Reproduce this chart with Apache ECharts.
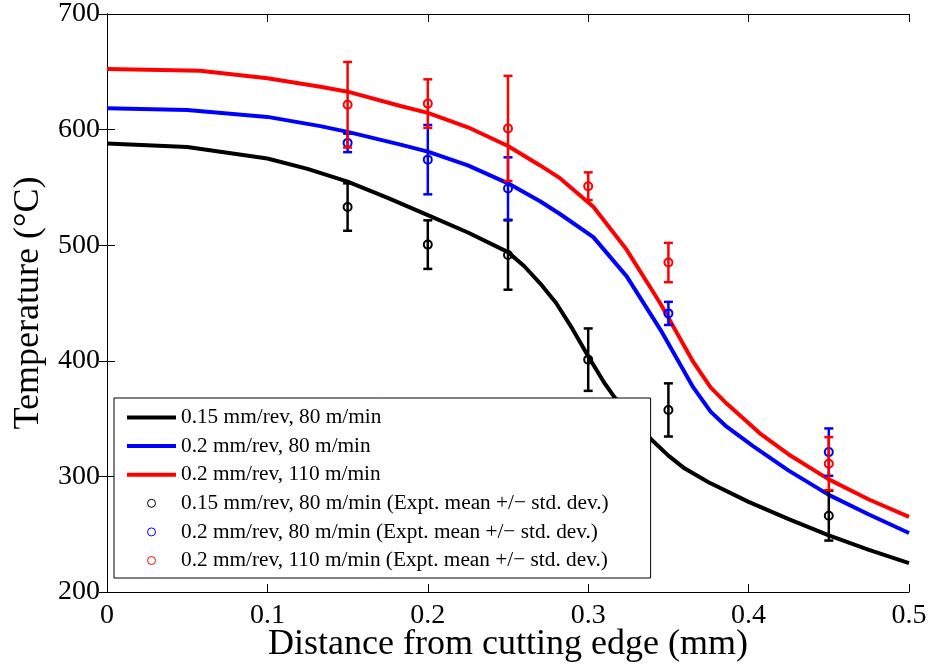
<!DOCTYPE html>
<html>
<head>
<meta charset="utf-8">
<script src="https://cdn.jsdelivr.net/npm/echarts@6/dist/echarts.min.js"></script>
<style>
  html, body { margin: 0; padding: 0; background: #fff; }
  #chart { width: 930px; height: 664px; }
</style>
</head>
<body>
<div id="chart"></div>
<script>
// Simulated temperature profiles along the rake face
const blackX = [0, 0.05, 0.1, 0.125, 0.15, 0.175, 0.2, 0.225, 0.25, 0.26, 0.27, 0.28, 0.29, 0.3, 0.31, 0.3167, 0.33, 0.34, 0.35, 0.36, 0.375, 0.4, 0.425, 0.45, 0.475, 0.5];
const blackT = [588, 585, 575, 566, 555, 541, 526, 511, 494, 482, 467, 450, 428, 404, 381, 368, 346, 331, 318, 307, 295, 278, 263, 249, 236.5, 225];

const blueX = [0, 0.05, 0.1, 0.133, 0.15, 0.183, 0.2, 0.225, 0.25, 0.27, 0.2824, 0.3032, 0.324, 0.345, 0.3655, 0.3763, 0.3863, 0.403, 0.425, 0.45, 0.475, 0.5];
const blueT = [618.4, 617, 611, 603, 598, 587, 581, 569, 553.5, 538, 527, 507, 473, 427, 377, 356, 343, 326, 305, 284, 267, 251];

const redX = [0, 0.058, 0.1, 0.133, 0.15, 0.183, 0.2, 0.225, 0.25, 0.27, 0.2824, 0.3032, 0.324, 0.3448, 0.3655, 0.3763, 0.3863, 0.407, 0.425, 0.45, 0.475, 0.5];
const redT = [652.4, 651, 644.4, 637, 632.8, 620.4, 614.5, 602, 585.8, 569, 558, 533.3, 496, 450, 399, 377, 363, 337.3, 319, 297.4, 280, 265];

// Measured temperatures: mean and standard deviation
const blackExpX = [0.15, 0.2, 0.25, 0.3, 0.35, 0.45];
const blackMean = [533, 500.5, 491.5, 401, 357.5, 266];
const blackStd  = [20.5, 21, 30, 27, 23, 21.5];

const blueExpX = [0.15, 0.2, 0.25, 0.35, 0.45];
const blueMean = [588.5, 574, 549, 441, 321];
const blueStd  = [8, 30, 27, 10, 20.5];

const redExpX = [0.15, 0.2, 0.25, 0.3, 0.35, 0.45];
const redMean = [621.5, 622.5, 601, 551, 485, 311];
const redStd  = [37, 21, 45.5, 12, 17, 23];

const lineNames = ['0.15 mm/rev, 80 m/min', '0.2 mm/rev, 80 m/min', '0.2 mm/rev, 110 m/min'];
const expNames = [
  '0.15 mm/rev, 80 m/min (Expt. mean +/\u2212 std. dev.)',
  '0.2 mm/rev, 80 m/min (Expt. mean +/\u2212 std. dev.)',
  '0.2 mm/rev, 110 m/min (Expt. mean +/\u2212 std. dev.)'
];
const xTicks = ['0', '0.1', '0.2', '0.3', '0.4', '0.5'];

const COLORS = ['#000000', '#0000ff', '#ff0000'];
const FONT = '"Liberation Serif", "Times New Roman", serif';

function zip(xs, ys) { return xs.map((x, i) => [x, ys[i]]); }
function zip3(xs, ms, ss) { return xs.map((x, i) => [x, ms[i], ss[i]]); }

function lineSeries(name, data, color) {
  return {
    name, type: 'line', data, showSymbol: false, symbol: 'none',
    smooth: false,
    lineStyle: { color, width: 4, join: 'round' }, itemStyle: { color },
    z: 2, silent: true
  };
}

function errorSeries(name, data, color) {
  return {
    name, type: 'custom', data,
    encode: { x: 0, y: 1 },
    itemStyle: { color },
    z: 3, silent: true,
    renderItem(params, api) {
      const x = api.value(0), m = api.value(1), s = api.value(2);
      const top = api.coord([x, m + s]);
      const bot = api.coord([x, m - s]);
      const c = api.coord([x, m]);
      const hw = 4.5;
      const st = { stroke: color, lineWidth: 2.5, fill: null };
      return {
        type: 'group',
        children: [
          { type: 'line', shape: { x1: top[0], y1: top[1], x2: bot[0], y2: bot[1] }, style: st },
          { type: 'line', shape: { x1: top[0] - hw, y1: top[1], x2: top[0] + hw, y2: top[1] }, style: st },
          { type: 'line', shape: { x1: bot[0] - hw, y1: bot[1], x2: bot[0] + hw, y2: bot[1] }, style: st },
          { type: 'circle', shape: { cx: c[0], cy: c[1], r: 4 }, style: { stroke: color, fill: null, lineWidth: 2 } }
        ]
      };
    }
  };
}

const chart = echarts.init(document.getElementById('chart'), null, { renderer: 'canvas' });

const axisCommon = {
  axisLine: { show: true, lineStyle: { color: '#000', width: 1 } },
  axisTick: { show: true, inside: true, length: 8, lineStyle: { color: '#000', width: 1 } },
  splitLine: { show: false }
};

const hiddenMarker = { color: 'rgba(0,0,0,0)', borderWidth: 0 };

chart.setOption({
  animation: false,
  backgroundColor: '#fff',
  textStyle: { fontFamily: FONT },
  grid: { left: 107, right: 21, top: 14, bottom: 72, containLabel: false, outerBoundsMode: 'none' },
  xAxis: [
    Object.assign({
      type: 'value', min: 0, max: 0.5, interval: 0.1, position: 'bottom',
      name: 'Distance from cutting edge (mm)', nameLocation: 'middle', nameGap: 35,
      nameMoveOverlap: false,
      nameTextStyle: { fontFamily: FONT, fontSize: 36, color: '#000' },
      axisLabel: {
        fontFamily: FONT, fontSize: 28, color: '#000', margin: 10,
        formatter: v => xTicks[Math.round(v * 10)]
      }
    }, axisCommon),
    Object.assign({
      type: 'value', min: 0, max: 0.5, interval: 0.1, position: 'top',
      axisLabel: { show: false }
    }, axisCommon)
  ],
  yAxis: [
    Object.assign({
      type: 'value', min: 200, max: 700, interval: 100, position: 'left',
      name: 'Temperature (\u00B0C)', nameLocation: 'middle', nameGap: 60,
      nameMoveOverlap: false,
      nameTextStyle: { fontFamily: FONT, fontSize: 36, color: '#000' },
      axisLabel: { fontFamily: FONT, fontSize: 28, color: '#000', margin: 7 }
    }, axisCommon),
    Object.assign({
      type: 'value', min: 200, max: 700, interval: 100, position: 'right',
      axisLabel: { show: false }
    }, axisCommon)
  ],
  legend: {
    orient: 'vertical', left: 114, top: 398,
    padding: [9, 42, 7, 11],
    itemWidth: 49, itemHeight: 8, itemGap: 7.6,
    backgroundColor: '#fff', borderColor: '#000', borderWidth: 1, borderRadius: 0,
    textStyle: { fontFamily: FONT, fontSize: 21.3, color: '#000' },
    lineStyle: { width: 'inherit' },
    selectedMode: false,
    data: [
      { name: lineNames[0], itemStyle: hiddenMarker },
      { name: lineNames[1], itemStyle: hiddenMarker },
      { name: lineNames[2], itemStyle: hiddenMarker },
      { name: expNames[0], icon: 'circle', itemStyle: { color: 'rgba(0,0,0,0)', borderColor: COLORS[0], borderWidth: 1 } },
      { name: expNames[1], icon: 'circle', itemStyle: { color: 'rgba(0,0,0,0)', borderColor: COLORS[1], borderWidth: 1 } },
      { name: expNames[2], icon: 'circle', itemStyle: { color: 'rgba(0,0,0,0)', borderColor: COLORS[2], borderWidth: 1 } }
    ]
  },
  series: [
    lineSeries(lineNames[0], zip(blackX, blackT), COLORS[0]),
    lineSeries(lineNames[1], zip(blueX, blueT), COLORS[1]),
    lineSeries(lineNames[2], zip(redX, redT), COLORS[2]),
    errorSeries(expNames[0], zip3(blackExpX, blackMean, blackStd), COLORS[0]),
    errorSeries(expNames[1], zip3(blueExpX, blueMean, blueStd), COLORS[1]),
    errorSeries(expNames[2], zip3(redExpX, redMean, redStd), COLORS[2])
  ]
});
</script>
</body>
</html>
